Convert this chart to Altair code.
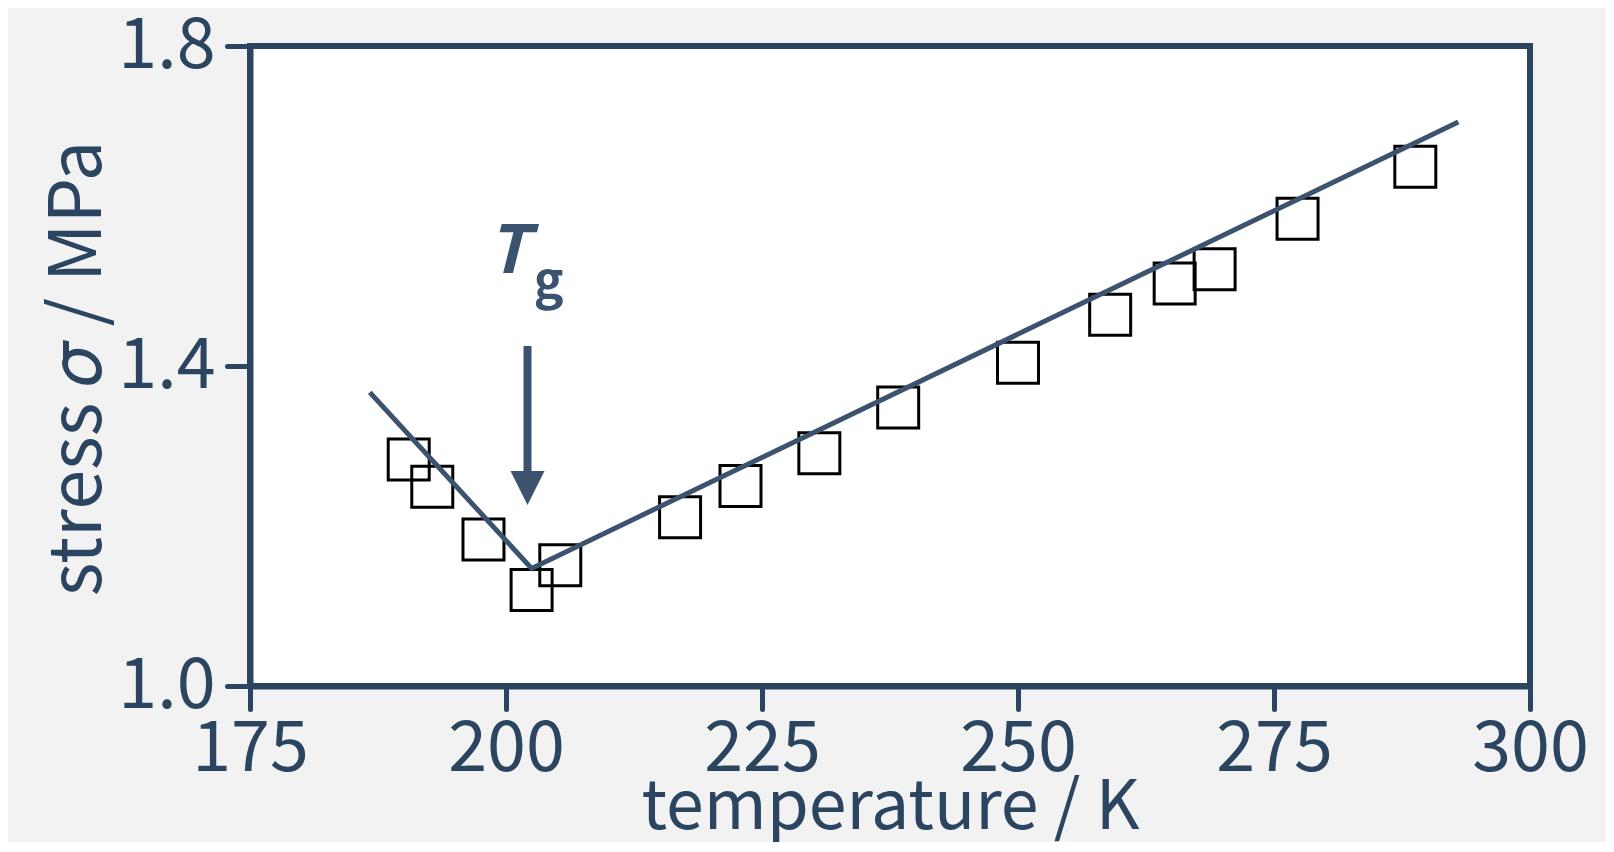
import altair as alt
import pandas as pd

# measured data points (temperature in K, stress in MPa)
temp_k = [190.5, 192.8, 197.8, 202.5, 205.3, 217.0, 222.9, 230.6, 238.3,
          250.0, 259.0, 265.3, 269.2, 277.3, 288.8]
stress_mpa = [1.283, 1.249, 1.183, 1.120, 1.151, 1.211, 1.250, 1.291, 1.348,
              1.404, 1.464, 1.503, 1.521, 1.584, 1.649]

# two straight fit lines meeting at Tg
fit_temp = [186.7, 202.5, 293.0]
fit_stress = [1.367, 1.147, 1.705]

# axis ticks
x_ticks = [175, 200, 225, 250, 275, 300]
y_ticks = [1.0, 1.4, 1.8]

# Tg arrow annotation
arrow_temp = [202.1]
arrow_top = [1.425]
arrow_base = [1.268]
arrow_head = [1.2475]
label_T_temp = [200.2]
label_T_stress = [1.516]
label_g_temp = [202.7]
label_g_stress = [1.485]

AXIS = "#2b4560"
LINE = "#3c5370"
FONT = "Noto Sans CJK JP, Liberation Sans, sans-serif"

xs = alt.Scale(domain=[175, 300], nice=False, zero=False)
ys = alt.Scale(domain=[1.0, 1.8], nice=False, zero=False)

xaxis = alt.Axis(
    values=x_ticks, title="temperature / K", grid=False,
    labelFont=FONT, labelFontSize=70, labelColor=AXIS, labelPadding=6,
    labelFlush=False, labelOverlap=False,
    tickSize=23, tickWidth=5, tickColor=AXIS, tickCap="round",
    domainColor=AXIS, domainWidth=6,
    titleFont=FONT, titleFontSize=68, titleFontWeight="normal", titleColor=AXIS,
    titleY=142, titleBaseline="alphabetic",
)
yaxis = alt.Axis(
    values=y_ticks, format=".1f", title="stress 𝜎 / MPa", grid=False,
    labelFont=FONT, labelFontSize=70, labelColor=AXIS, labelPadding=12,
    labelFlush=False, labelOverlap=False,
    tickSize=23, tickWidth=5, tickColor=AXIS, tickCap="round",
    domainColor=AXIS, domainWidth=6,
    titleFont=FONT, titleFontSize=72, titleFontWeight="normal", titleColor=AXIS,
    titleX=-150, titleY=322, titleAngle=270, titleAlign="center",
    titleBaseline="alphabetic",
)

pts = pd.DataFrame({"T": temp_k, "s": stress_mpa})
fit = pd.DataFrame({"T": fit_temp, "s": fit_stress})
arr = pd.DataFrame({"T": arrow_temp, "top": arrow_top, "base": arrow_base, "head": arrow_head})
tlab = pd.DataFrame({"T": label_T_temp, "s": label_T_stress})
glab = pd.DataFrame({"T": label_g_temp, "s": label_g_stress})

points = alt.Chart(pts).mark_point(
    shape="square", filled=False, size=1680, color="black",
    strokeWidth=3, opacity=1
).encode(
    x=alt.X("T:Q", scale=xs, axis=xaxis),
    y=alt.Y("s:Q", scale=ys, axis=yaxis),
)

line = alt.Chart(fit).mark_line(color=LINE, strokeWidth=5).encode(
    x=alt.X("T:Q", scale=xs), y=alt.Y("s:Q", scale=ys)
)

shaft = alt.Chart(arr).mark_rule(color=LINE, strokeWidth=8).encode(
    x=alt.X("T:Q", scale=xs), y=alt.Y("top:Q", scale=ys), y2="base:Q"
)
head = alt.Chart(arr).mark_point(
    shape="M-1,-1L1,-1L0,1Z", filled=True, size=1160, color=LINE, opacity=1
).encode(x=alt.X("T:Q", scale=xs), y=alt.Y("head:Q", scale=ys))

t_text = alt.Chart(tlab).mark_text(
    text="T", font=FONT, fontSize=66, fontWeight="bold",
    fontStyle="italic", align="center", baseline="alphabetic", color=LINE
).encode(x=alt.X("T:Q", scale=xs), y=alt.Y("s:Q", scale=ys))
g_text = alt.Chart(glab).mark_text(
    text="g", font=FONT, fontSize=50, fontWeight="bold",
    align="left", baseline="alphabetic", color=LINE
).encode(x=alt.X("T:Q", scale=xs), y=alt.Y("s:Q", scale=ys))

chart = alt.layer(points, line, shaft, head, t_text, g_text).properties(
    width=1280, height=640,
    padding={"left": 242, "top": 38, "right": 76, "bottom": 156},
    autosize=alt.AutoSizeParams(type="none"),
).configure(background="#f2f2f2").configure_view(
    fill="white", stroke=AXIS, strokeWidth=6
)

chart.save("out.html", embed_options={"renderer": "svg", "actions": False})
